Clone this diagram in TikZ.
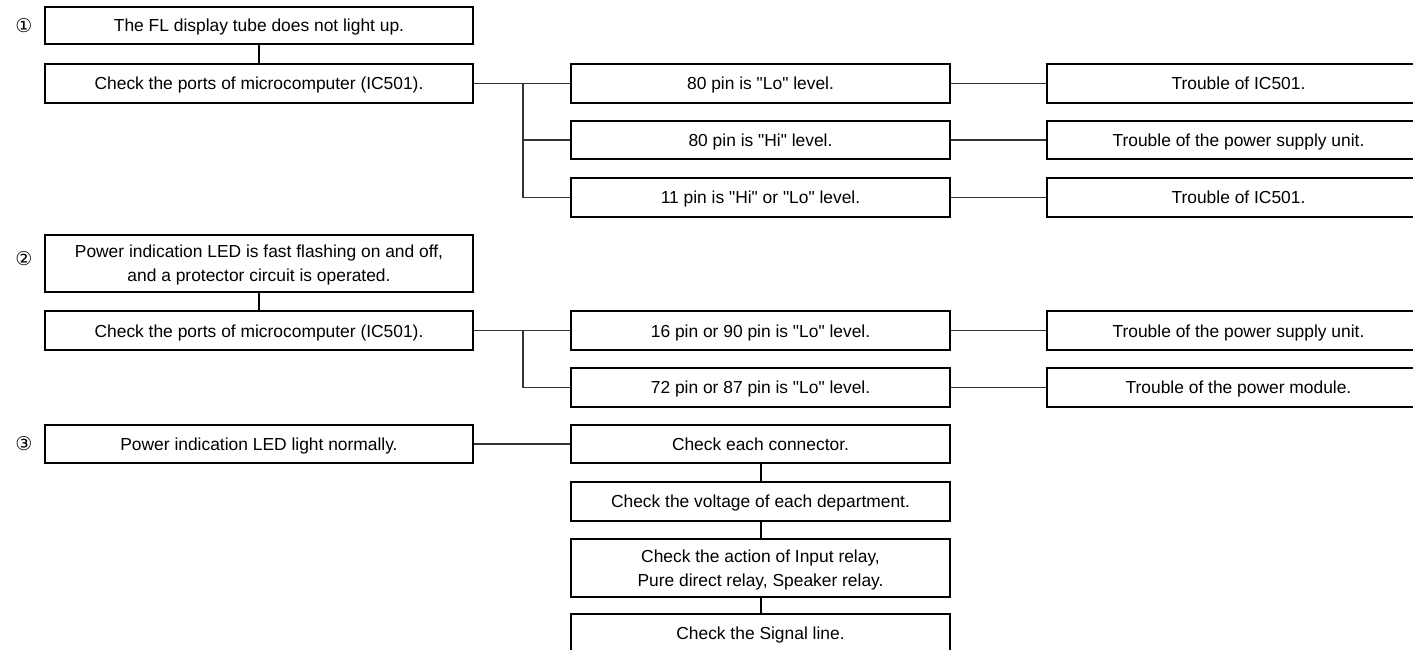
\documentclass[tikz,border=0pt]{standalone}
\usepackage{fontspec}
\setmainfont{Liberation Sans}[Ligatures=TeXOff]
\newfontfamily\symfont{DejaVu Sans}
\newcommand{\nodp}[1]{\raisebox{0pt}[\height][0pt]{#1}}
\begin{document}
\begin{tikzpicture}[x=1pt,y=-1pt,
  box/.style={draw=black, line width=2pt, inner sep=0pt, align=center,
    font=\fontsize{17.4}{23.5}\selectfont},
  one/.style={text height=12.7pt, text depth=0pt},
  lbox/.style={box, minimum width=428pt},
  mbox/.style={box, minimum width=379pt},
  rbox/.style={box, minimum width=383pt},
  vlink/.style={draw=black, line width=2pt},
  hlink/.style={draw=black!80, line width=1.4pt},
  num/.style={inner sep=0pt, font=\symfont\fontsize{19}{19}\selectfont}]
\clip (0,0) rectangle (1413,650);
\useasboundingbox (0,0) rectangle (1413,650);

% Section 1
\node[num] (n1) at (24,26) {①};
\node[lbox, one, minimum height=37.5pt] (a1) at (259,25.5) {The FL display tube does not light up.};
\node[lbox, one, minimum height=38.5pt] (a2) at (259,83.3) {Check the ports of microcomputer (IC501).};
\node[mbox, one, minimum height=38.5pt] (m1) at (760.5,83.3) {80 pin is "Lo" level.};
\node[mbox, one, minimum height=38.5pt] (m2) at (760.5,140) {80 pin is "Hi" level.};
\node[mbox, one, minimum height=38.5pt] (m3) at (760.5,197.3) {11 pin is "Hi" or "Lo" level.};
\node[rbox, one, minimum height=38.5pt] (r1) at (1238.5,83.3) {Trouble of IC501.};
\node[rbox, one, minimum height=38.5pt] (r2) at (1238.5,140) {Trouble of the power supply unit.};
\node[rbox, one, minimum height=38.5pt] (r3) at (1238.5,197.3) {Trouble of IC501.};
\coordinate (j1) at (523,83.3);
\path[vlink] (a1.south) -- (a2.north);
\path[hlink] (a2.east) -- (m1.west);
\path[hlink] (j1) |- (m2.west);
\path[hlink] (j1) |- (m3.west);
\path[hlink] (m1.east) -- (r1.west);
\path[hlink] (m2.east) -- (r2.west);
\path[hlink] (m3.east) -- (r3.west);

% Section 2
\node[num] (n2) at (24,259) {②};
\node[lbox, minimum height=56.5pt] (b1) at (259,263.3) {Power indication LED is fast flashing on and off,\\\nodp{and a protector circuit is operated.}};
\node[lbox, one, minimum height=38.5pt] (b2) at (259,330.7) {Check the ports of microcomputer (IC501).};
\node[mbox, one, minimum height=38.5pt] (p1) at (760.5,330.7) {16 pin or 90 pin is "Lo" level.};
\node[mbox, one, minimum height=38.5pt] (p2) at (760.5,387.3) {72 pin or 87 pin is "Lo" level.};
\node[rbox, one, minimum height=38.5pt] (s1) at (1238.5,330.7) {Trouble of the power supply unit.};
\node[rbox, one, minimum height=38.5pt] (s2) at (1238.5,387.3) {Trouble of the power module.};
\coordinate (j2) at (523,330.7);
\path[vlink] (b1.south) -- (b2.north);
\path[hlink] (b2.east) -- (p1.west);
\path[hlink] (j2) |- (p2.west);
\path[hlink] (p1.east) -- (s1.west);
\path[hlink] (p2.east) -- (s2.west);

% Section 3
\node[num] (n3) at (24,444) {③};
\node[lbox, one, minimum height=38.5pt] (c1) at (259,444) {Power indication LED light normally.};
\node[mbox, one, minimum height=38.5pt] (d1) at (760.5,444) {Check each connector.};
\node[mbox, one, minimum height=39pt] (d2) at (760.5,501.5) {Check the voltage of each department.};
\node[mbox, minimum height=57.5pt] (d3) at (760.5,568) {Check the action of Input relay,\\\nodp{Pure direct relay, Speaker relay.}};
\node[mbox, one, minimum height=39pt] (d4) at (760.5,633.5) {Check the Signal line.};
\path[hlink] (c1.east) -- (d1.west);
\path[vlink] (d1.south) -- (d2.north);
\path[vlink] (d2.south) -- (d3.north);
\path[vlink] (d3.south) -- (d4.north);
\end{tikzpicture}
\end{document}
